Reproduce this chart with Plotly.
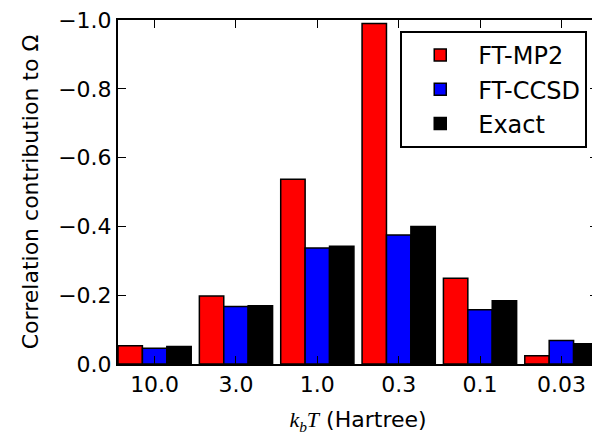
import plotly.graph_objects as go

categories = ["10.0", "3.0", "1.0", "0.3", "0.1", "0.03"]
ft_mp2 = [-0.053, -0.198, -0.537, -0.990, -0.249, -0.024]
ft_ccsd = [-0.046, -0.167, -0.337, -0.375, -0.158, -0.068]
exact = [-0.051, -0.169, -0.342, -0.400, -0.184, -0.059]

series = [("FT-MP2", ft_mp2, "#ff0000"), ("FT-CCSD", ft_ccsd, "#0000ff"), ("Exact", exact, "#000000")]
xs = list(range(len(categories)))

fig = go.Figure()
for name, vals, col in series:
    fig.add_trace(go.Bar(x=xs, y=vals, name=name, legendgroup=name,
                         marker=dict(color=col, line=dict(color="black", width=1.5))))

font = "DejaVu Sans"
fs = 22
# page body has an 8px default margin; figure is sized to fit the 600x435 window
fig.update_layout(
    width=592, height=427,
    margin=dict(l=110, r=2, t=12, b=71),
    plot_bgcolor="white", paper_bgcolor="white",
    barmode="group", bargap=0.1, bargroupgap=0,
    font=dict(family=font, size=fs, color="black"),
    showlegend=True,
    legend=dict(x=0.588, y=0.968, xanchor="left", yanchor="top",
                bordercolor="black", borderwidth=2, bgcolor="white",
                font=dict(size=24, family=font), itemwidth=66,
                tracegroupgap=0),
)
fig.update_xaxes(
    range=[-0.45, 5.45], tickmode="array", tickvals=xs, ticktext=categories,
    ticks="inside", ticklen=8, tickwidth=1, tickcolor="black",
    showline=True, linecolor="black", linewidth=2, mirror="allticks",
    showgrid=False, zeroline=False, automargin=False, ticklabeloverflow="allow",
    tickfont=dict(size=fs, family=font),
    title=dict(text="<span style='font-family:Liberation Serif'><i>k</i><sub><i>b</i></sub><i>T</i></span> (Hartree)",
               font=dict(size=fs, family=font), standoff=17),
)
fig.update_yaxes(
    range=[0, -1.0], tickvals=[0, -0.2, -0.4, -0.6, -0.8, -1.0],
    ticktext=["0.0", "\u22120.2", "\u22120.4", "\u22120.6", "\u22120.8", "\u22121.0"],
    ticks="inside", ticklen=8, tickwidth=1, tickcolor="black",
    showline=True, linecolor="black", linewidth=2, mirror="allticks",
    showgrid=False, zeroline=False, automargin=False, ticklabeloverflow="allow",
    tickfont=dict(size=fs, family=font),
    title=dict(text="Correlation contribution to \u03a9", font=dict(size=fs, family=font), standoff=13),
)
fig.write_html("out.html")
